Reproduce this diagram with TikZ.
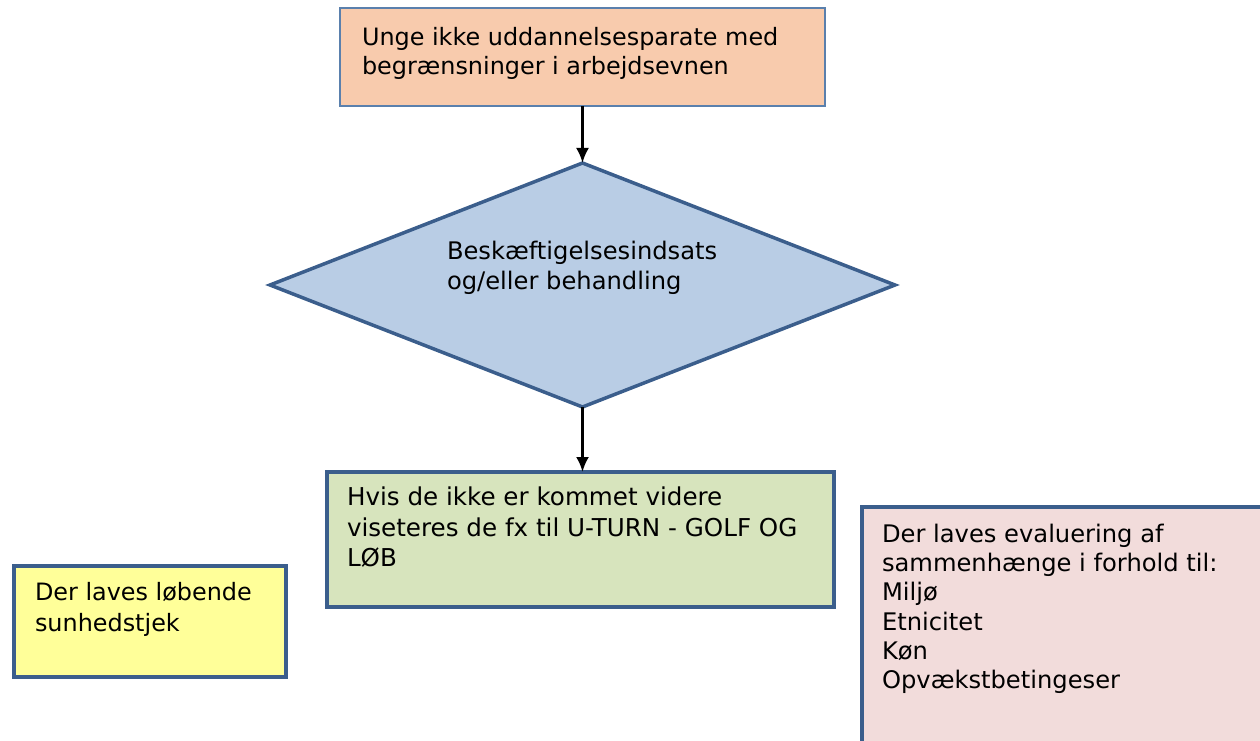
\documentclass[tikz,border=0pt]{standalone}
\usepackage{fontspec}
\setmainfont{DejaVu Sans}
\usetikzlibrary{shapes.geometric,arrows.meta}
\definecolor{peach}{HTML}{F8CBAD}
\definecolor{lightblue}{HTML}{B9CDE5}
\definecolor{lightgreen}{HTML}{D7E4BD}
\definecolor{lightyellow}{HTML}{FFFF99}
\definecolor{lightpink}{HTML}{F2DCDB}
\definecolor{edge}{HTML}{3B5E8C}
\definecolor{thinedge}{HTML}{5A80AD}

\begin{document}
\begin{tikzpicture}
[x=1pt,y=-1pt,
every node/.style={inner sep=0pt,outer sep=0pt},
box/.style={rectangle,draw=edge,line width=3.5pt},
txt/.style={anchor=north west,align=left,font=\fontsize{23.9}{29.5}\selectfont}]
\useasboundingbox (0,0) rectangle (1260,741);
\node[box,fill=peach,draw=thinedge,line width=2pt,minimum width=485,minimum height=98] (start) at (582.5,57) {};
\node[diamond,fill=lightblue,draw=edge,line width=3.5pt,minimum width=625,minimum height=244] (choice) at (582.5,285) {};
\node[box,fill=lightgreen,minimum width=507,minimum height=135] (next) at (580.5,539.5) {};
\node[box,fill=lightyellow,minimum width=272,minimum height=111] (check) at (150,621.5) {};
\node[box,fill=lightpink,minimum width=405,minimum height=240] (eval) at (1064.5,627) {};
\node[txt] (start-t) at (362,27) {Unge ikke uddannelsesparate med\\begrænsninger i arbejdsevnen};
\node[txt,font=\fontsize{24.2}{30.5}\selectfont] (choice-t) at (447,241) {Beskæftigelsesindsats\\og/eller behandling};
\node[txt,font=\fontsize{24.6}{30.5}\selectfont] (next-t) at (347,487) {Hvis de ikke er kommet videre\\viseteres de fx til U-TURN - GOLF OG\\LØB};
\node[txt,font=\fontsize{23.9}{31}\selectfont] (check-t) at (35,582) {Der laves løbende\\sunhedstjek};
\node[txt,font=\fontsize{24.2}{29.3}\selectfont] (eval-t) at (882,524) {Der laves evaluering af\\sammenhænge i forhold til:\\Miljø\\Etnicitet\\Køn\\Opvækstbetingeser};
\draw[line width=2.6pt,-{Latex[length=15pt,width=13pt]}] (start) -- (choice);
\draw[line width=2.6pt,-{Latex[length=15pt,width=13pt]}] (choice) -- (choice.south |- next.north);
\end{tikzpicture}
\end{document}
